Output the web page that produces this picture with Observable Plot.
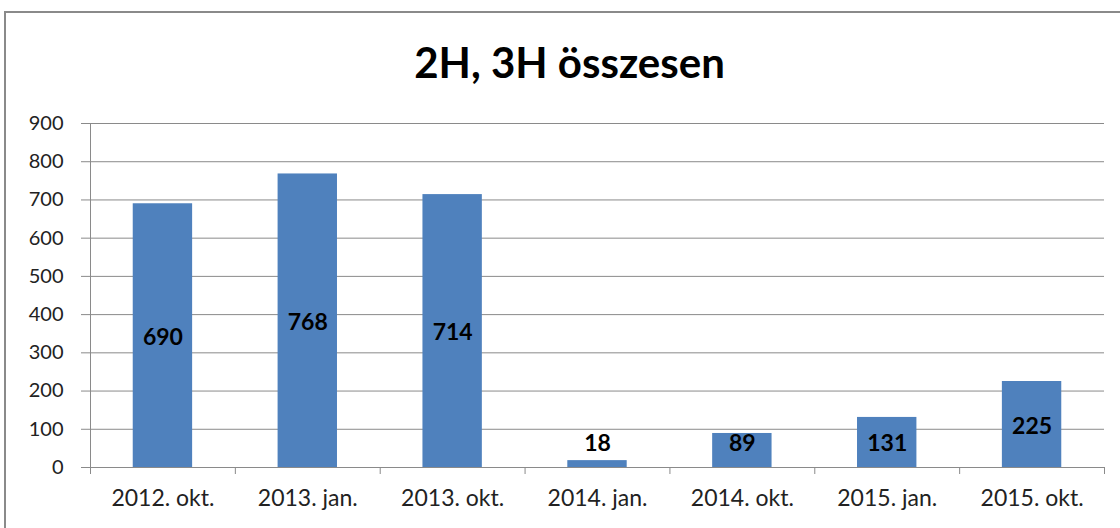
<!DOCTYPE html>
<html>
<head>
<meta charset="utf-8">
<script src="https://cdn.jsdelivr.net/npm/d3@7"></script>
<script src="https://cdn.jsdelivr.net/npm/@observablehq/plot@0.6"></script>
<style>
  html, body { margin: 0; padding: 0; background: #fff; }
  #wrap { position: relative; width: 1120px; height: 528px; overflow: hidden; font-family: Lato, "Open Sans", sans-serif; }
  #frame { position: absolute; left: 4px; top: 11px; width: 1200px; height: 600px; border: 2px solid #8a8a8a; box-sizing: border-box; }
  #title { position: absolute; left: 0; width: 1139px; top: 37px; text-align: center; font: bold 42px Lato, sans-serif; line-height: 1.2; color: #000; }
  #chart { position: absolute; left: 0; top: 0; }
</style>
</head>
<body>
<div id="wrap">
  <div id="frame"></div>
  <div id="title">2H, 3H összesen</div>
  <div id="chart"></div>
</div>
<script>
const categories = ["2012. okt.", "2013. jan.", "2013. okt.", "2014. jan.", "2014. okt.", "2015. jan.", "2015. okt."];
const values = [690, 768, 714, 18, 89, 131, 225];
const yTicks = [0, 100, 200, 300, 400, 500, 600, 700, 800, 900];

const data = categories.map((c, i) => ({i, category: c, value: values[i]}));
const half = 0.205;
const grid = "#8a8a8a";

const chart = Plot.plot({
  width: 1120,
  height: 528,
  marginTop: 123,
  marginBottom: 61,
  marginLeft: 90,
  marginRight: 16,
  style: {fontFamily: "Lato, sans-serif", background: "transparent", overflow: "visible"},
  x: {type: "linear", domain: [0, categories.length]},
  y: {domain: [0, 900]},
  marks: [
    Plot.gridY(yTicks, {stroke: grid, strokeOpacity: 1, strokeWidth: 1}),
    Plot.rectY(data, {x1: d => d.i + 0.5 - half, x2: d => d.i + 0.5 + half, y: "value", fill: "#4f81bd"}),
    Plot.axisY(yTicks, {tickSize: 9, tickPadding: 18, stroke: grid, fontSize: 20, fill: "#222", label: null, tickFormat: d => String(d)}),
    Plot.axisX(d3.range(categories.length + 1), {tickSize: 7, stroke: grid, tickFormat: () => "", label: null}),
    Plot.axisX(data.map(d => d.i + 0.5), {tickSize: 0, tickPadding: 22, fontSize: 23, fill: "#222", label: null, tickFormat: v => categories[Math.floor(v)]}),
    Plot.ruleY([0], {stroke: grid}),
    Plot.ruleX([0], {stroke: grid}),
    Plot.text(data, {x: d => d.i + 0.5, y: d => Math.max(d.value / 2, 69), text: d => String(d.value), fontSize: 23, fontWeight: "bold", fill: "#000", dy: 2})
  ]
});
document.getElementById("chart").appendChild(chart);
</script>
</body>
</html>
